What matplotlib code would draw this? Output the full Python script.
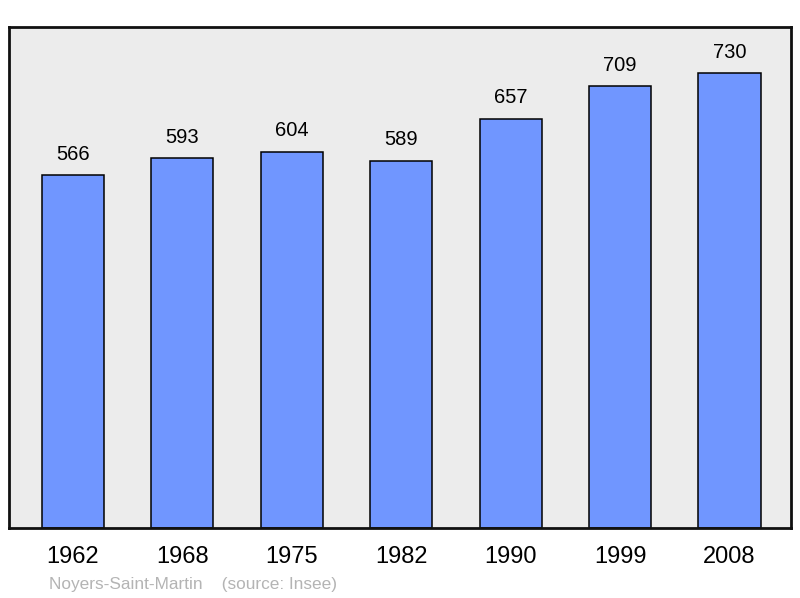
import matplotlib.pyplot as plt

plt.rcParams['font.family'] = ['Liberation Sans', 'DejaVu Sans']

years = ['1962', '1968', '1975', '1982', '1990', '1999', '2008']
population = [566, 593, 604, 589, 657, 709, 730]

fig = plt.figure(figsize=(8, 5.98), dpi=100)
ax = fig.add_axes([9 / 800, 70 / 598, 782 / 800, 501 / 598])
ax.set_facecolor('#ececec')

x = range(len(years))
ax.bar(x, population, width=0.567, color='#7096ff', edgecolor='black', linewidth=1.1, zorder=2)
for i, v in zip(x, population):
    ax.text(i, v + 25, str(v), ha='center', va='baseline', fontsize=14.5, color='black')

ax.set_xlim(-0.585, 6.562)
ax.set_ylim(0, 804)
ax.set_yticks([])
ax.set_xticks(list(x))
ax.set_xticklabels(years, fontsize=17)
ax.tick_params(axis='x', length=0, pad=13)
for s in ax.spines.values():
    s.set_linewidth(2)
    s.set_color('#111111')

fig.text(49 / 800, 1 - 584 / 598, 'Noyers-Saint-Martin    (source: Insee)',
         fontsize=12.4, color='#b4b4b4', ha='left', va='center')

fig.savefig('out.png', dpi=100)
